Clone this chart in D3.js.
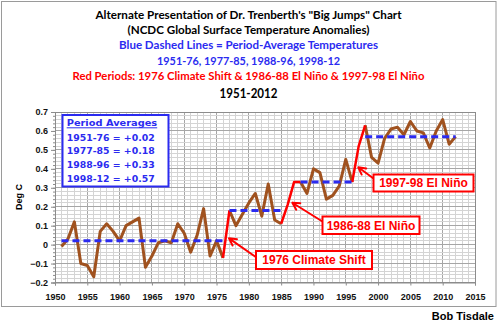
<!DOCTYPE html>
<html><head><meta charset="utf-8">
<script src="https://cdn.jsdelivr.net/npm/d3@7/dist/d3.min.js"></script>
<style>body{margin:0;background:#fff}svg{display:block}</style>
</head><body><svg id="c" width="499" height="324"></svg>
<script>
// ---------------- data ----------------
const years = [1951,1952,1953,1954,1955,1956,1957,1958,1959,1960,1961,1962,1963,1964,1965,1966,1967,1968,1969,1970,
  1971,1972,1973,1974,1975,1976,1977,1978,1979,1980,1981,1982,1983,1984,1985,1986,1987,1988,1989,1990,
  1991,1992,1993,1994,1995,1996,1997,1998,1999,2000,2001,2002,2003,2004,2005,2006,2007,2008,2009,2010,2011,2012];
const anomalies = [-0.01,0.03,0.12,-0.10,-0.11,-0.17,0.07,0.11,0.07,0.02,0.10,0.12,0.14,-0.12,-0.06,0.01,0.02,0.01,0.11,0.06,
  -0.04,0.05,0.19,-0.06,0.02,-0.07,0.18,0.10,0.16,0.22,0.27,0.15,0.32,0.13,0.11,0.21,0.33,0.33,0.27,0.40,
  0.38,0.24,0.26,0.31,0.45,0.33,0.52,0.63,0.46,0.43,0.56,0.61,0.62,0.58,0.65,0.60,0.59,0.51,0.60,0.66,0.53,0.57];
const periodLabels = ["1951-76","1977-85","1988-96","1998-12"];
const periodStart = [1951,1977,1988,1998];
const periodEnd = [1976,1985,1996,2012];
const periodAvg = [0.02,0.18,0.33,0.57];
const redStart = [1976,1985,1996];
const redEnd = [1977,1988,1998];
const annotationLabels = ["1976 Climate Shift","1986-88 El Niño","1997-98 El Niño"];
const annotationTipYear = [1976.93,1986.73,1996.94];
const annotationTipValue = [0.033,0.221,0.408];
const xTicks = [1950,1955,1960,1965,1970,1975,1980,1985,1990,1995,2000,2005,2010,2015];
const yTicks = [-0.2,-0.1,0,0.1,0.2,0.3,0.4,0.5,0.6,0.7];
const titleLines = [
  "Alternate Presentation of Dr. Trenberth's \"Big Jumps\" Chart",
  "(NCDC Global Surface Temperature Anomalies)",
  "Blue Dashed Lines = Period-Average Temperatures",
  "1951-76, 1977-85, 1988-96, 1998-12",
  "Red Periods: 1976 Climate Shift & 1986-88 El Niño & 1997-98 El Niño",
  "1951-2012"
];

// ---------------- layout ----------------
const svg = d3.select("#c");
const L = 55, R = 475, T = 112, B = 282.5;
const x = d3.scaleLinear().domain([1950,2015]).range([L,R]);
const y = d3.scaleLinear().domain([-0.2,0.7]).range([B,T]);
const BROWN = "#A0521F", RED = "#FF0000", BLUE = "#2B2BF0";

svg.append("rect").attr("x",1.5).attr("y",1.5).attr("width",494.5).attr("height",305)
  .attr("fill","#fff").attr("stroke","#9a9a9a").attr("stroke-width",1);

// title
const titleStyle = [
  {y:19, size:10.5, color:"#000", w:306},
  {y:34.3, size:10.5, color:"#000", w:242},
  {y:49, size:10.5, color:BLUE, w:259},
  {y:65, size:10.5, color:BLUE, w:183},
  {y:80, size:10.5, color:RED, w:352},
  {y:97.7, size:14, color:"#000", w:58}
];
titleLines.forEach((t,i)=>{
  const s = titleStyle[i];
  svg.append("text").attr("x",248.5).attr("y",s.y).attr("text-anchor","middle")
    .attr("font-family","Lato, 'Open Sans', sans-serif").attr("font-weight","bold")
    .attr("font-size",s.size).attr("fill",s.color)
    .attr("textLength",s.w).attr("lengthAdjust","spacingAndGlyphs").text(t);
});

// gridlines
const g = svg.append("g");
const minorX = d3.range(1950,2016,1), minorY = d3.range(-20,71,2).map(v=>v/100);
g.selectAll(".mx").data(minorX).join("line")
  .attr("x1",d=>x(d)).attr("x2",d=>x(d)).attr("y1",T).attr("y2",B)
  .attr("stroke",d=>d%5===0?"#a6a6a6":"#d4d4d4").attr("stroke-width",1).attr("shape-rendering","crispEdges");
g.selectAll(".my").data(minorY).join("line")
  .attr("x1",L).attr("x2",R).attr("y1",d=>y(d)).attr("y2",d=>y(d))
  .attr("stroke",(d,i)=>i%5===0?"#a6a6a6":"#d4d4d4").attr("stroke-width",1).attr("shape-rendering","crispEdges");
svg.append("rect").attr("x",L).attr("y",T).attr("width",R-L).attr("height",B-T)
  .attr("fill","none").attr("stroke","#8c8c8c").attr("shape-rendering","crispEdges");

// axes
const yAxis = d3.axisLeft(y).tickValues(yTicks).tickSize(4).tickPadding(3)
  .tickFormat((d)=> d===0 ? "0" : d3.format(".1f")(d));
const ya = svg.append("g").attr("transform",`translate(${L},0)`).call(yAxis);
ya.select(".domain").attr("stroke","#8c8c8c");
ya.selectAll(".tick line").attr("stroke","#8c8c8c");
ya.selectAll("text").attr("font-family","'Liberation Sans', Arial, sans-serif").attr("font-weight","bold")
  .attr("font-size",9).attr("fill","#111");
const yMinor = svg.append("g").attr("transform",`translate(${L},0)`)
  .call(d3.axisLeft(y).tickValues(minorY).tickSize(2).tickFormat(""));
yMinor.select(".domain").remove();
yMinor.selectAll("line").attr("stroke","#8c8c8c");

const xAxis = d3.axisBottom(x).tickValues(xTicks).tickSize(3).tickPadding(8).tickFormat(d3.format("d"));
const xa = svg.append("g").attr("transform",`translate(0,${B})`).call(xAxis);
xa.select(".domain").attr("stroke","#8c8c8c");
xa.selectAll(".tick line").attr("stroke","#8c8c8c");
xa.selectAll("text").attr("font-family","'Liberation Sans', Arial, sans-serif").attr("font-weight","bold")
  .attr("font-size",9).attr("fill","#111");

svg.append("text").attr("transform","translate(22,197) rotate(-90)").attr("text-anchor","middle")
  .attr("font-family","'Liberation Sans', Arial, sans-serif").attr("font-weight","bold").attr("font-size",9)
  .attr("fill","#000").text("Deg C");

// data line
const pts = years.map((yr,i)=>({yr, v:anomalies[i]}));
const line = d3.line().x(d=>x(d.yr)).y(d=>y(d.v));
// brown segments between red periods
const brownBreaks = [[1951,1976],[1977,1985],[1988,1996],[1998,2012]];
brownBreaks.forEach(([a,b])=>{
  svg.append("path").attr("d",line(pts.filter(p=>p.yr>=a&&p.yr<=b)))
    .attr("fill","none").attr("stroke",BROWN).attr("stroke-width",3).attr("stroke-linejoin","round");
});
redStart.forEach((a,i)=>{
  svg.append("path").attr("d",line(pts.filter(p=>p.yr>=a&&p.yr<=redEnd[i])))
    .attr("fill","none").attr("stroke",RED).attr("stroke-width",2.5).attr("stroke-linejoin","round");
});

// period averages
periodAvg.forEach((v,i)=>{
  svg.append("line").attr("x1",x(periodStart[i])).attr("x2",x(periodEnd[i]))
    .attr("y1",y(v)).attr("y2",y(v)).attr("stroke",BLUE).attr("stroke-width",3)
    .attr("stroke-dasharray","7,4");
});

// legend box
const lg = svg.append("g");
lg.append("rect").attr("x",62.5).attr("y",115).attr("width",106).attr("height",71.5)
  .attr("fill","#fff").attr("stroke",BLUE).attr("stroke-width",2);
const legFont = "'DejaVu Sans', Verdana, sans-serif";
lg.append("text").attr("x",66.7).attr("y",126).attr("font-family",legFont).attr("font-weight","bold")
  .attr("font-size",9.5).attr("fill",BLUE).attr("textLength",90.5).attr("lengthAdjust","spacingAndGlyphs")
  .text("Period Averages");
lg.append("line").attr("x1",66.7).attr("x2",157.2).attr("y1",127.8).attr("y2",127.8).attr("stroke",BLUE).attr("stroke-width",1);
periodLabels.forEach((p,i)=>{
  lg.append("text").attr("x",66.7).attr("y",140.8+i*13.6).attr("font-family",legFont).attr("font-weight","bold")
    .attr("font-size",9.5).attr("fill",BLUE).attr("textLength",88).attr("lengthAdjust","spacingAndGlyphs")
    .text(`${p} = +${periodAvg[i].toFixed(2)}`);
});

// annotations
const boxes = [
  {x:256, y:251, w:116, h:18, tail:[256.5,257.5]},
  {x:322.5, y:216.5, w:97, h:17.5, tail:[322.5,221.5]},
  {x:373.5, y:174.5, w:100, h:17, tail:[373.5,178.5]}
];
annotationLabels.forEach((t,i)=>{
  const b = boxes[i];
  const tip = [x(annotationTipYear[i]), y(annotationTipValue[i])];
  const ang = Math.atan2(tip[1]-b.tail[1], tip[0]-b.tail[0]);
  const hl = 8, ha = 0.5;
  const a1 = [tip[0]-hl*Math.cos(ang-ha), tip[1]-hl*Math.sin(ang-ha)];
  const a2 = [tip[0]-hl*Math.cos(ang+ha), tip[1]-hl*Math.sin(ang+ha)];
  svg.append("path").attr("d",`M${b.tail[0]},${b.tail[1]}L${tip[0]},${tip[1]}M${a1[0]},${a1[1]}L${tip[0]},${tip[1]}L${a2[0]},${a2[1]}`)
    .attr("fill","none").attr("stroke",RED).attr("stroke-width",2).attr("stroke-linecap","round").attr("stroke-linejoin","round");
  svg.append("rect").attr("x",b.x).attr("y",b.y).attr("width",b.w).attr("height",b.h)
    .attr("fill","#fff").attr("stroke",RED).attr("stroke-width",2);
  svg.append("text").attr("x",b.x+b.w/2).attr("y",b.y+b.h/2+4.3).attr("text-anchor","middle")
    .attr("font-family","'Liberation Sans', Arial, sans-serif").attr("font-weight","bold").attr("font-size",12)
    .attr("fill",RED).text(t);
});

svg.append("text").attr("x",494).attr("y",320).attr("text-anchor","end")
  .attr("font-family","'Liberation Sans', Arial, sans-serif").attr("font-weight","bold").attr("font-size",11)
  .attr("fill","#000").text("Bob Tisdale");
</script></body></html>
